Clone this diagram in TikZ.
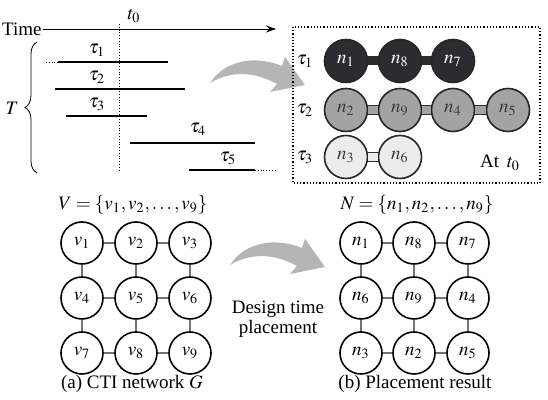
\documentclass[tikz,border=0pt]{standalone}
\usepackage{mathptmx}
\usepackage[no-math]{fontspec}
\setmainfont{Liberation Serif}
\usetikzlibrary{arrows.meta,decorations.pathreplacing}

\definecolor{darknode}{HTML}{2B2B30}
\definecolor{midnode}{HTML}{A3A3A3}
\definecolor{lightnode}{HTML}{ECECEC}
\definecolor{arrowgray}{HTML}{B5B5B5}
\definecolor{textgray}{HTML}{3A3A3A}

\tikzset{
  gridnode/.style={circle,draw,thick,minimum size=21pt,inner sep=0pt},
  chainnode/.style={circle,draw=black!85,thick,minimum size=21.5pt,inner sep=0pt,text=textgray},
  gridedge/.style={draw=black!55,semithick},
  linkbox/.style={draw=black!80,line width=0.6pt,double distance=4pt},
  tasklabel/.style={inner sep=0.5pt}
}

% body of the bent gray arrow (tail at the left)
\def\bentarrow{(210,83) .. controls (232,70) and (255,72) .. (277,84) -- (270,92) -- (305,85)
  -- (285,57) -- (282,66) .. controls (255,55) and (225,60) .. (210,83) -- cycle}

\begin{document}
\begin{tikzpicture}[x=0.5pt,y=-0.5pt,
    every node/.style={font=\fontsize{9.5}{10}\selectfont}]
  \useasboundingbox (0,0) rectangle (548,400);

  % time axis
  \node[anchor=east,inner sep=0.5pt] (time) at (43,29) {Time};
  \coordinate (tend) at (276,29);
  \draw[-{Stealth[length=5pt,width=3.5pt]}] (time.east) -- (tend);
  \node (t0) at (134,16) {$t_0$};
  \coordinate (d1) at (119.5,24);
  \coordinate (d2) at (119.5,172);
  \draw[densely dotted] (d1) -- (d2);

  % task set T
  \draw[decorate,decoration={brace,amplitude=6pt}] (37,173) -- (37,42);
  \node (T) at (12,108) {$T$};
  \draw[densely dotted] (46,62) -- (58,62);
  \draw[thick] (58,62) -- (168,62);
  \node[tasklabel] (tau1) at (97,50) {$\tau_1$};
  \draw[thick] (55,89) -- (185,89);
  \node[tasklabel] (tau2) at (97,77) {$\tau_2$};
  \draw[thick] (66,116) -- (147,116);
  \node[tasklabel] (tau3) at (97,104) {$\tau_3$};
  \draw[thick] (130,143) -- (255,143);
  \node[tasklabel] (tau4) at (198,129) {$\tau_4$};
  \draw[thick] (189,170) -- (255,170);
  \draw[densely dotted] (255,170) -- (277,170);
  \node[tasklabel] (tau5) at (228,158) {$\tau_5$};

  % bent arrows
  \fill[arrowgray] \bentarrow;
  \fill[arrowgray,shift={(20,182)}] \bentarrow;

  % snapshot at t0
  \draw[densely dotted,semithick] (293,27) rectangle (540,183);
  \node (r1) at (305,61) {$\tau_1$};
  \node (r2) at (305,110) {$\tau_2$};
  \node (r3) at (305,157) {$\tau_3$};
  \node[chainnode,fill=darknode,text=white] (a1) at (346,61) {$n_1$};
  \node[chainnode,fill=darknode,text=white] (a8) at (400,61) {$n_8$};
  \node[chainnode,fill=darknode,text=white] (a7) at (453,61) {$n_7$};
  \node[chainnode,fill=midnode] (b2) at (346,110) {$n_2$};
  \node[chainnode,fill=midnode] (b9) at (400,110) {$n_9$};
  \node[chainnode,fill=midnode] (b4) at (453,110) {$n_4$};
  \node[chainnode,fill=midnode] (b5) at (508,110) {$n_5$};
  \node[chainnode,fill=lightnode] (c3) at (346,157) {$n_3$};
  \node[chainnode,fill=lightnode] (c6) at (400,157) {$n_6$};
  \draw[darknode,line width=4.5pt] (a1) -- (a8);
  \draw[darknode,line width=4.5pt] (a8) -- (a7);
  \draw[linkbox,double=midnode] (b2) -- (b9);
  \draw[linkbox,double=midnode] (b9) -- (b4);
  \draw[linkbox,double=midnode] (b4) -- (b5);
  \draw[linkbox,double=lightnode] (c3) -- (c6);
  \node (at) at (500,163) {At \,$t_0$};

  % CTI network G
  \node (Vset) at (133,205) {$V=\{v_1,v_2,\ldots,v_9\}$};
  \node[gridnode] (v1) at (82,243) {$v_1$};
  \node[gridnode] (v2) at (136,243) {$v_2$};
  \node[gridnode] (v3) at (190,243) {$v_3$};
  \node[gridnode] (v4) at (82,298) {$v_4$};
  \node[gridnode] (v5) at (136,298) {$v_5$};
  \node[gridnode] (v6) at (190,298) {$v_6$};
  \node[gridnode] (v7) at (82,353) {$v_7$};
  \node[gridnode] (v8) at (136,353) {$v_8$};
  \node[gridnode] (v9) at (190,353) {$v_9$};
  \foreach \a/\b in {v1/v2,v2/v3,v4/v5,v5/v6,v7/v8,v8/v9,v1/v4,v4/v7,v2/v5,v5/v8,v3/v6,v6/v9}
    \draw[gridedge] (\a) -- (\b);
  \node (capa) at (132,384) {(a) CTI network $G$};

  \node[align=center] (design) at (278,319) {Design time\\placement};

  % placement result
  \node (Nset) at (417,205) {$N=\{n_1,n_2,\ldots,n_9\}$};
  \node[gridnode] (p1) at (361,243) {$n_1$};
  \node[gridnode] (p2) at (414,243) {$n_8$};
  \node[gridnode] (p3) at (468,243) {$n_7$};
  \node[gridnode] (p4) at (361,298) {$n_6$};
  \node[gridnode] (p5) at (414,298) {$n_9$};
  \node[gridnode] (p6) at (468,298) {$n_4$};
  \node[gridnode] (p7) at (361,353) {$n_3$};
  \node[gridnode] (p8) at (414,353) {$n_2$};
  \node[gridnode] (p9) at (468,353) {$n_5$};
  \foreach \a/\b in {p1/p2,p2/p3,p4/p5,p5/p6,p7/p8,p8/p9,p1/p4,p4/p7,p2/p5,p5/p8,p3/p6,p6/p9}
    \draw[gridedge] (\a) -- (\b);
  \node (capb) at (415,384) {(b) Placement result};
\end{tikzpicture}
\end{document}
